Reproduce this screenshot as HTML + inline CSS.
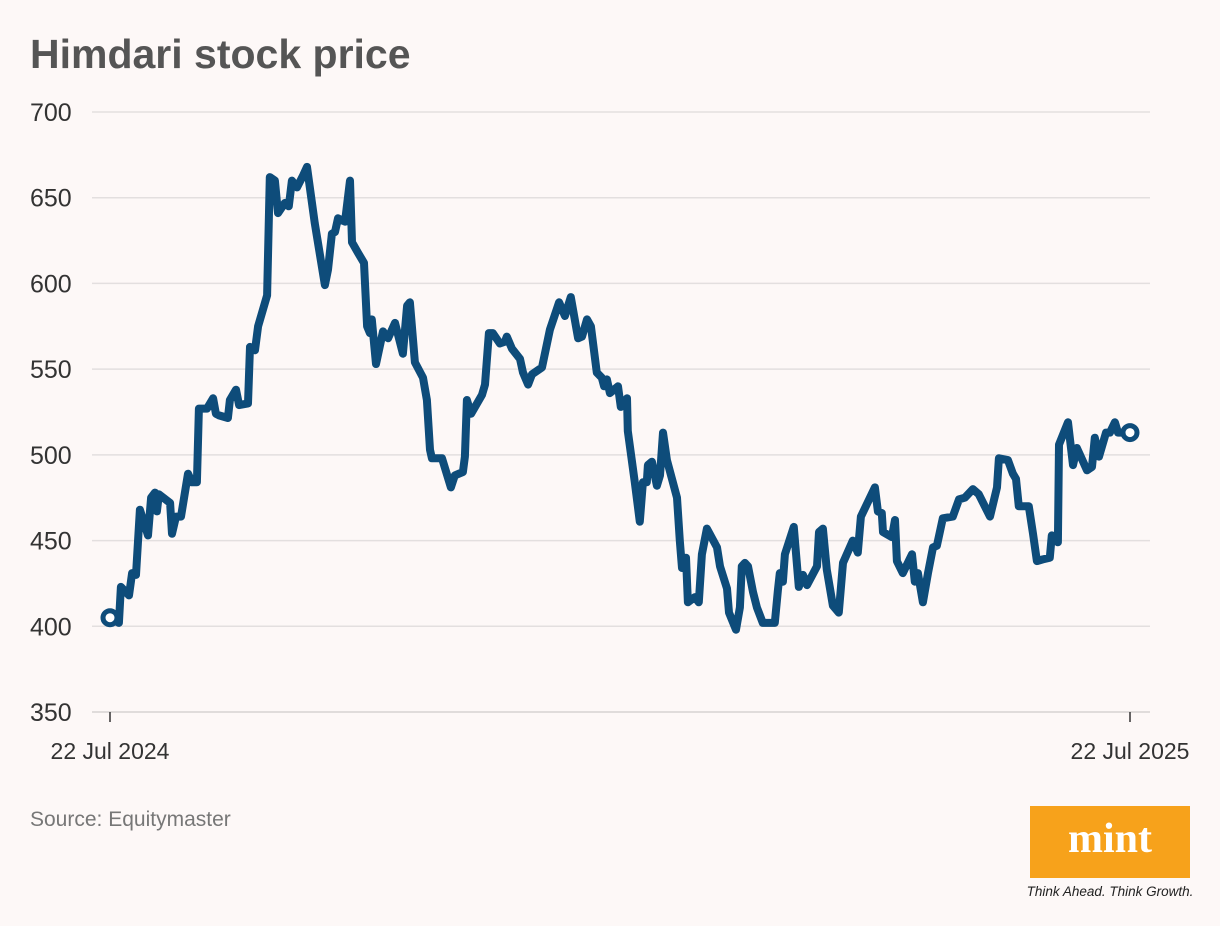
<!DOCTYPE html>
<html><head><meta charset="utf-8"><style>
body{margin:0;background:#fdf8f7;}
svg{display:block;font-family:"Liberation Sans",sans-serif;}
</style></head><body>
<svg id="chart" width="1220" height="926" viewBox="0 0 1220 926">
<rect width="1220" height="926" fill="#fdf8f7"/>
<text x="30" y="68" font-size="41" font-weight="bold" fill="#555">Himdari stock price</text>
<g id="grid"></g>
<g id="yaxis"></g>
<g id="xaxis"></g>
<path id="line" fill="none" stroke="#0e4c7a" stroke-width="8" stroke-linejoin="round" stroke-linecap="round"/>
<g id="marks"></g>
<text x="30" y="826" font-size="21" fill="#777">Source: Equitymaster</text>
<g>
<rect x="1030" y="806" width="160" height="72" fill="#f7a21b"/>
<text x="1110" y="852" text-anchor="middle" font-family="Liberation Serif,serif" font-weight="bold" font-size="42" fill="#fff">mint</text>
<text x="1110" y="896" text-anchor="middle" font-style="italic" font-size="13.5" fill="#222">Think Ahead. Think Growth.</text>
</g>
</svg>
<script>
const days=[0,3.2,3.9,6.8,7.9,9.3,10.7,13.6,14.7,16.1,16.8,17.5,21.5,22.2,23.6,25.4,27.9,29.3,31.1,31.8,34.7,36.9,37.9,39.0,42.2,42.9,45.1,46.2,49.4,50.1,51.9,53.0,56.2,57.2,59.0,60.1,62.6,64.0,65.1,66.9,69.1,70.5,73.3,76.9,78.0,79.4,80.5,81.6,84.1,85.9,86.6,88.7,90.9,92.0,93.0,93.7,95.2,97.7,99.5,102.0,104.8,106.3,107.3,109.1,112.0,113.4,114.5,115.2,118.8,122.0,123.4,126.3,127.0,127.7,129.2,133.1,134.2,135.6,137.0,139.5,141.3,142.0,143.8,146.7,147.8,149.6,151.0,154.6,157.4,160.7,162.8,164.9,167.5,168.9,170.7,172.1,174.2,176.0,176.8,177.8,178.9,181.8,182.8,185.0,185.3,187.8,189.6,190.7,192.1,192.5,193.9,195.7,196.8,197.9,199.3,202.9,203.9,204.7,206.1,206.8,209.3,210.7,211.8,213.6,217.2,218.3,220.8,221.5,224.0,225.4,226.1,227.2,228.3,230.1,231.5,233.6,237.9,239.0,239.7,240.8,241.5,244.7,246.5,248.0,249.4,253.0,253.7,255.1,256.5,258.7,260.8,262.3,265.8,267.6,268.7,273.7,274.8,276.2,276.6,279.8,280.9,281.6,283.7,287.0,288.0,289.1,290.9,292.7,294.5,295.9,298.0,301.6,303.8,305.9,308.8,310.9,314.9,317.4,318.1,321.3,323.1,324.2,325.2,328.8,330.3,331.7,333.8,336.3,337.0,339.2,339.6,342.8,344.6,346.0,349.6,351.4,352.4,353.9,356.4,357.8,359.6,360.7,365];
const prices=[405,402,423,418,431,430,468,453,475,478,467,477,472,454,464,464,489,484,484,527,527,533,524,523,521.5,532,538,529,530,563,561,575,593,662,660,641,647,645,660,656,663,668,635,599,608,629,630,638,636,660,624,618,612,575,571,579,553,572,568,577,559,587,589,554,545,532,503,498,498,481,488,490,499,532,524,535,541,571,571,565,566,569,562,556,548,541,547,551,573,589,581,592,568,569,579,575,548,545,540,544,536,540,528,533,514,484,461,484,484,494,496,482,488,513,497,475,450,434,440,414,417,414,442,457,446,435,422,408,398,411,435,437,435,420,411,402,402,421,431,426,442,458,423,430,424,435,455,457,433,412,408,437,450,443,464,481,467,466,455,452,462,438,431,442,426,431,414,431,446,447,463,464,474,475,480,477,464,481,498,497,489,486,470,470,454,438,439,440,453,449,506,519,494,504,491,493,510,499,513,513,519,513,513];
const yTicks=[350,400,450,500,550,600,650,700];
const xTickDays=[0,365];
const xTickLabels=["22 Jul 2024","22 Jul 2025"];
const NS="http://www.w3.org/2000/svg";
const X0=110,X1=1130,Y0=712,Y1=112,PMIN=350,PMAX=700,DMAX=365;
function xs(d){return X0+(d/DMAX)*(X1-X0);}
function ys(p){return Y0-(p-PMIN)/(PMAX-PMIN)*(Y0-Y1);}
function mk(t,a,parent){const e=document.createElementNS(NS,t);for(const k in a)e.setAttribute(k,a[k]);parent.appendChild(e);return e;}
const grid=document.getElementById('grid'),ya=document.getElementById('yaxis'),xa=document.getElementById('xaxis');
yTicks.forEach(v=>{
  const l=mk('line',{x1:92,x2:1150,y1:ys(v),y2:ys(v),stroke:v===350?'#d6d2d2':'#e3dfdf','stroke-width':1.5},grid);
  
  
  const t=mk('text',{x:30,y:ys(v)+9,'font-size':25,fill:'#333'},ya);
  t.textContent=v;
  
  
});
xTickDays.forEach((d,i)=>{
  const l=mk('line',{x1:xs(d),x2:xs(d),y1:712,y2:722,stroke:'#333','stroke-width':1.5},xa);
  
  
  const t=mk('text',{x:xs(d),y:759,'font-size':23,fill:'#333','text-anchor':'middle'},xa);
  t.textContent=xTickLabels[i];
  
  
});
let dstr='';
days.forEach((d,i)=>{dstr+=(i?'L':'M')+xs(d).toFixed(1)+','+ys(prices[i]).toFixed(1);});
document.getElementById('line').setAttribute('d',dstr);
const marks=document.getElementById('marks');
[0,days.length-1].forEach((i,k)=>{
  const c=mk('circle',{cx:xs(days[i]),cy:ys(prices[i]),r:7,fill:'#fff',stroke:'#0e4c7a','stroke-width':5},marks);
  
  
});
</script>
</body></html>
